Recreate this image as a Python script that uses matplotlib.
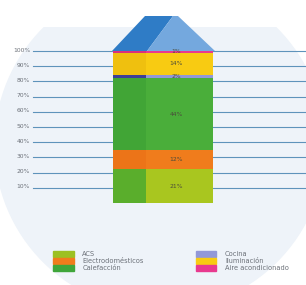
import matplotlib.pyplot as plt
from matplotlib.patches import Polygon, Circle, Patch, Rectangle

# === Datos ===
categorias = ["ACS", "Electrodomésticos", "Calefacción", "Cocina", "Iluminación", "Aire acondicionado"]
valores = [21, 12, 44, 2, 14, 1]
etiquetas = ["21%", "12%", "44%", "2%", "14%", "1%"]
ticks = [10, 20, 30, 40, 50, 60, 70, 80, 90, 100]

# colores: cara clara / cara oscura (efecto 3D)
col_claro = ["#a9c61f", "#f07c1c", "#4aae3a", "#9298d8", "#f8cb12", "#e8398f"]
col_oscuro = ["#5aae2c", "#ec7418", "#41a536", "#3c3f98", "#efc00f", "#d9307e"]
col_leyenda = ["#9cc022", "#f07c1c", "#3fa63a", "#9298d8", "#f8cb12", "#e8398f"]

total = sum(valores)
alturas = [v / total * 100 for v in valores]

fig = plt.figure(figsize=(3.06, 2.85), dpi=100)
ax = fig.add_axes([0, 0, 1, 1])
# x en pixeles, y en %: 0% -> px 203, 100% -> px 51
px = 1.52
ax.set_xlim(0, 306)
ax.set_ylim(-(285 - 203) / px, 203 / px)
ax.set_axis_off()

# fondo: circulo palido recortado arriba (en coordenadas de pixel)
fondo = Circle((160, 285 - 145), 165, transform=None, color="#eef3f9", zorder=0)
ax.add_patch(fondo)
recorte = Rectangle((0, 0), 306, 285 - 27, transform=None, facecolor="none", edgecolor="none")
ax.add_patch(recorte)
fondo.set_clip_path(recorte)

# lineas de referencia
for t in ticks:
    ax.plot([33, 306], [t, t], color="#5e93bb", lw=0.8, zorder=1)
    ax.text(30, t + 0.6, f"{t}%", fontsize=4.3, color="#6b7078", ha="right", va="center", zorder=2)

# barra apilada con cara izquierda oscura
x_izq, x_med, x_der = 113, 146, 213
base = 0
for h, c1, c2, lab in zip(alturas, col_claro, col_oscuro, etiquetas):
    ax.bar(x_izq, h, width=x_med - x_izq, bottom=base, align="edge", color=c2, zorder=3, lw=0)
    ax.bar(x_med, h, width=x_der - x_med, bottom=base, align="edge", color=c1, zorder=3, lw=0)
    ax.text(176, base + h / 2, lab, fontsize=4.3, color="#4a4a3a", ha="center", va="center", zorder=4)
    base += h

# tejado
techo = (203 - 16) / px
ax.add_patch(Polygon([(x_izq - 1, 100), (145, techo), (173, techo), (147, 100)],
                     closed=True, color="#2f7cc6", zorder=3, lw=0))
ax.add_patch(Polygon([(147, 100), (173, techo), (178, techo), (x_der + 2, 100)],
                     closed=True, color="#74a8de", zorder=3, lw=0))

# leyenda
handles = [Patch(color=c, label=n) for c, n in zip(col_leyenda, categorias)]
leg = ax.legend(handles=handles, ncol=2, loc="upper left", bbox_to_anchor=(0.162, 0.13),
                frameon=False, fontsize=4.8, handlelength=3.1, handleheight=0.9,
                labelspacing=0.15, columnspacing=7.8, handletextpad=1.3, borderpad=0)
for t in leg.get_texts():
    t.set_color("#6b7078")

fig.savefig("out.png", dpi=100)
